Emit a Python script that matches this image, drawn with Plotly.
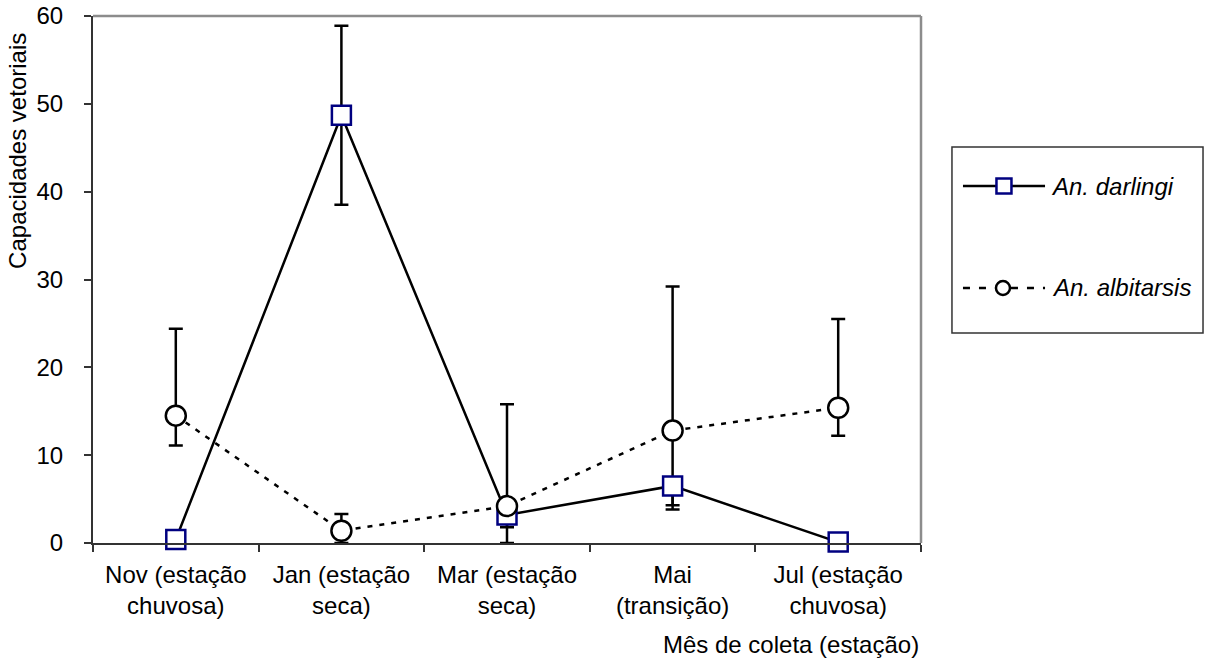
import plotly.graph_objects as go

# Collection months (season)
months = [
    "Nov (estação<br>chuvosa)",
    "Jan (estação<br>seca)",
    "Mar (estação<br>seca)",
    "Mai<br>(transição)",
    "Jul (estação<br>chuvosa)",
]

# Vectorial capacity per species with custom error bars
darlingi = [0.4, 48.7, 3.2, 6.5, 0.1]
darlingi_err_plus = [0.0, 10.2, 1.4, 0.0, 0.0]
darlingi_err_minus = [0.0, 10.2, 1.4, 2.2, 0.0]

albitarsis = [14.5, 1.4, 4.2, 12.8, 15.4]
albitarsis_err_plus = [9.9, 1.9, 11.6, 16.4, 10.1]
albitarsis_err_minus = [3.4, 1.4, 4.2, 9.0, 3.2]

y_ticks = [0, 10, 20, 30, 40, 50, 60]

FONT = "Liberation Sans, Arial, sans-serif"
NAVY = "#000080"

fig = go.Figure()

# albitarsis error bars first so the darlingi squares sit over them
fig.add_trace(go.Scatter(
    x=months, y=albitarsis, mode="markers",
    marker=dict(size=1, color="rgba(0,0,0,0)"),
    error_y=dict(type="data", symmetric=False,
                 array=albitarsis_err_plus, arrayminus=albitarsis_err_minus,
                 color="black", thickness=2.5, width=7),
    cliponaxis=False, showlegend=False, hoverinfo="skip",
))

fig.add_trace(go.Scatter(
    x=months, y=darlingi, mode="lines+markers", name="An. darlingi",
    line=dict(color="black", width=2.5),
    marker=dict(symbol="square", size=19, color="white",
                line=dict(color=NAVY, width=2.5)),
    error_y=dict(type="data", symmetric=False,
                 array=darlingi_err_plus, arrayminus=darlingi_err_minus,
                 color="black", thickness=2.5, width=7),
    cliponaxis=False, showlegend=False,
))

fig.add_trace(go.Scatter(
    x=months, y=albitarsis, mode="lines+markers", name="An. albitarsis",
    line=dict(color="black", width=2.5, dash="5px,7px"),
    marker=dict(symbol="circle", size=20, color="white",
                line=dict(color="black", width=2.5)),
    cliponaxis=False, showlegend=False,
))

AX = "#333333"
fig.update_xaxes(
    type="category", range=[-0.5, 4.5], tickson="boundaries",
    showline=True, linecolor=AX, linewidth=2,
    ticks="outside", ticklen=7, tickwidth=1.5, tickcolor=AX,
    showgrid=False, zeroline=False, automargin=False, ticklabelstandoff=9,
    tickfont=dict(family=FONT, size=24, color="black"),
)
fig.update_yaxes(
    range=[0, 60], tickvals=y_ticks,
    showline=True, linecolor=AX, linewidth=2,
    ticks="outside", ticklen=7, tickwidth=1.5, tickcolor=AX,
    showgrid=False, zeroline=False, automargin=False, ticklabelstandoff=16,
    tickfont=dict(family=FONT, size=24, color="black"),
)

# plot-area frame (top and right), legend box and legend samples
shapes = [
    dict(type="line", xref="paper", yref="paper", x0=0, x1=1, y0=1, y1=1,
         line=dict(color="#8c8c8c", width=2.5)),
    dict(type="line", xref="paper", yref="paper", x0=1, x1=1, y0=0, y1=1,
         line=dict(color="#8c8c8c", width=2.5)),
    dict(type="rect", xref="paper", yref="paper",
         x0=1.0374, x1=1.3406, y0=0.3985, y1=0.7514,
         line=dict(color="#333333", width=1.5), fillcolor="white"),
    dict(type="line", xref="paper", yref="paper",
         x0=1.0507, x1=1.1498, y0=0.6774, y1=0.6774,
         line=dict(color="black", width=2.5)),
    dict(type="rect", xref="paper", yref="paper",
         xsizemode="pixel", ysizemode="pixel",
         xanchor=1.1002, yanchor=0.6774, x0=-7.5, x1=7.5, y0=-7.5, y1=7.5,
         line=dict(color=NAVY, width=2.5), fillcolor="white"),
    dict(type="line", xref="paper", yref="paper",
         x0=1.0507, x1=1.1498, y0=0.4839, y1=0.4839,
         line=dict(color="black", width=2.5, dash="7px,9px")),
    dict(type="circle", xref="paper", yref="paper",
         xsizemode="pixel", ysizemode="pixel",
         xanchor=1.0990, yanchor=0.4839, x0=-7, x1=7, y0=-7, y1=7,
         line=dict(color="black", width=2.5), fillcolor="white"),
]

annotations = [
    dict(text="<i>An. darlingi</i>", xref="paper", yref="paper",
         x=1.1546, y=0.6774, xanchor="left", yanchor="middle", showarrow=False,
         font=dict(family=FONT, size=24, color="black")),
    dict(text="<i>An. albitarsis</i>", xref="paper", yref="paper",
         x=1.1558, y=0.4839, xanchor="left", yanchor="middle", showarrow=False,
         font=dict(family=FONT, size=24, color="black")),
    dict(text="Mês de coleta (estação)", xref="paper", yref="paper",
         x=1.0, y=-0.1935, xanchor="right", yanchor="middle", showarrow=False,
         font=dict(family=FONT, size=24, color="black")),
    dict(text="Capacidades vetoriais", xref="paper", yref="paper",
         x=-0.0906, y=0.744, xanchor="center", yanchor="middle",
         textangle=-90, showarrow=False,
         font=dict(family=FONT, size=24, color="black")),
]

fig.update_layout(
    width=1208, height=662,
    margin=dict(l=93, r=287, t=16, b=119, autoexpand=False),
    paper_bgcolor="white", plot_bgcolor="white",
    showlegend=False,
    shapes=shapes, annotations=annotations,
    font=dict(family=FONT, size=24, color="black"),
)

fig.write_html("out.html")
